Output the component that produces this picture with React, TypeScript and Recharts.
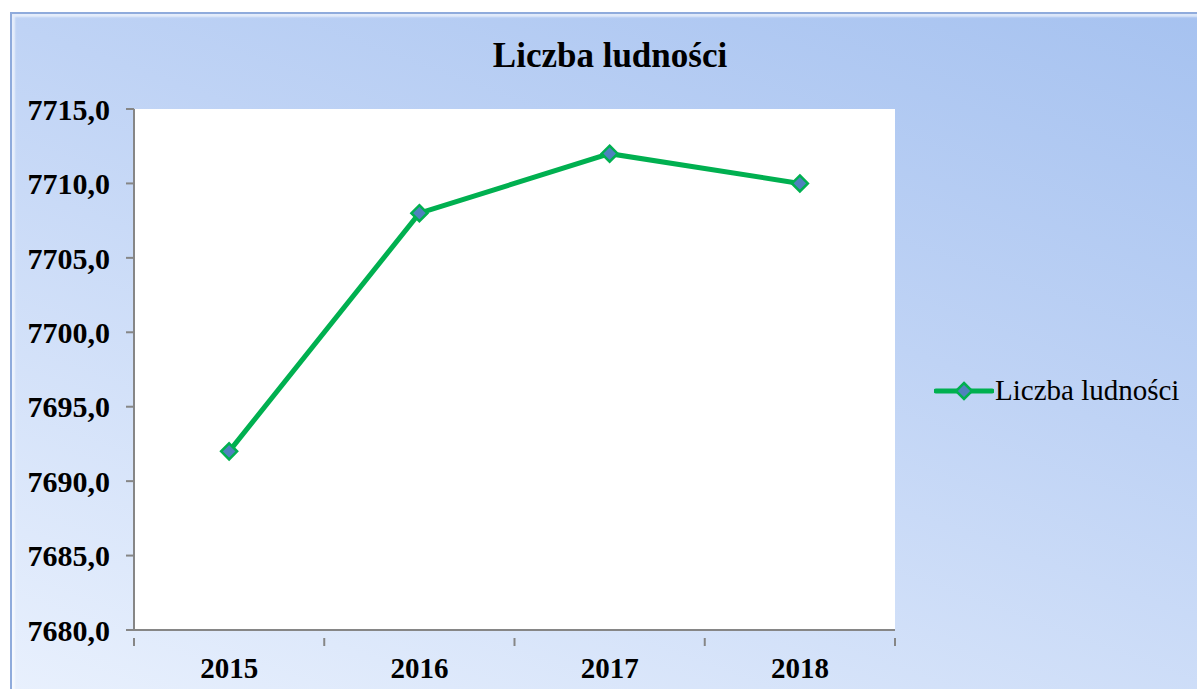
import * as React from "react"
import { LineChart, Line, XAxis, YAxis, CartesianGrid, Legend } from "recharts"

const years = ["2015", "2016", "2017", "2018"]
const population = [7692, 7708, 7712, 7710]
const yTicks = [7680, 7685, 7690, 7695, 7700, 7705, 7710, 7715]
const seriesName = "Liczba ludności"

const data = years.map((year, i) => ({ year, value: population[i] }))

const GREEN = "#00B050"
const BLUE = "#4F81BD"
const AXIS = "#868686"
const FONT = '"Liberation Serif", "Times New Roman", serif'

const Diamond = ({ cx, cy }: any) => {
    if (cx == null || cy == null) return null
    const r = 8
    return (
        <path
            d={`M${cx},${cy - r} L${cx + r},${cy} L${cx},${cy + r} L${cx - r},${cy} Z`}
            fill={BLUE}
            stroke={GREEN}
            strokeWidth={2.5}
        />
    )
}

// category labels sit between tick marks, Excel style
const YearTick = ({ x, y, payload, index, width, visibleTicksCount }: any) => {
    const bw = width / visibleTicksCount
    return (
        <g>
            {index === 0 && <line x1={x - bw / 2} y1={y} x2={x - bw / 2} y2={y + 8} stroke={AXIS} strokeWidth={2} />}
            <line x1={x + bw / 2} y1={y} x2={x + bw / 2} y2={y + 8} stroke={AXIS} strokeWidth={2} />
            <text x={x} y={y + 40} textAnchor="middle" fontFamily={FONT} fontWeight="bold" fontSize={29} fill="#000">
                {payload.value}
            </text>
        </g>
    )
}

const LegendContent = () => (
    <div style={{ display: "flex", alignItems: "center", fontFamily: FONT, fontSize: 29, color: "#000" }}>
        <svg width={60} height={20}>
            <line x1={2} y1={10} x2={58} y2={10} stroke={GREEN} strokeWidth={5} strokeLinecap="round" />
            <Diamond cx={30} cy={10} />
        </svg>
        <span style={{ marginLeft: 1 }}>{seriesName}</span>
    </div>
)

export default function App() {
    return (
        <div style={{ position: "absolute", left: 0, top: 0, width: 1197, height: 689, background: "#fff" }}>
            <div
                style={{
                    position: "absolute",
                    left: 10,
                    top: 12,
                    width: 1187,
                    height: 677,
                    boxSizing: "border-box",
                    borderTop: "2px solid #8FABDC",
                    borderLeft: "2px solid #8FABDC",
                    background: "linear-gradient(200deg, #A6C2F0 0%, #BFD3F5 40%, #E8F0FD 100%)",
                    boxShadow: "inset 3px 3px 2px rgba(255,255,255,0.6)",
                }}
            >
                <div
                    style={{
                        position: "absolute",
                        left: 0,
                        top: 22,
                        width: 1196,
                        textAlign: "center",
                        fontFamily: FONT,
                        fontWeight: "bold",
                        fontSize: 35,
                        color: "#000",
                    }}
                >
                    {seriesName}
                </div>
                <LineChart width={1185} height={675} data={data} margin={{ top: 95, right: 42, bottom: 9, left: 0 }}>
                    <CartesianGrid horizontal={false} vertical={false} fill="#fff" stroke="none" />
                    <XAxis
                        dataKey="year"
                        scale="band"
                        height={50}
                        axisLine={{ stroke: AXIS, strokeWidth: 2 }}
                        tickLine={false}
                        tick={<YearTick />}
                        interval={0}
                    />
                    <YAxis
                        domain={[7680, 7715]}
                        ticks={yTicks}
                        width={122}
                        tickSize={8}
                        tickMargin={16}
                        axisLine={{ stroke: AXIS, strokeWidth: 2 }}
                        tickLine={{ stroke: AXIS, strokeWidth: 2 }}
                        tickFormatter={(v: number) => v.toFixed(1).replace(".", ",")}
                        tick={{ fontFamily: FONT, fontWeight: "bold", fontSize: 30, fill: "#000" }}
                    />
                    <Legend
                        layout="vertical"
                        verticalAlign="middle"
                        align="right"
                        content={<LegendContent />}
                        wrapperStyle={{ left: 922, top: 360, width: 260 }}
                    />
                    <Line
                        type="linear"
                        dataKey="value"
                        name={seriesName}
                        stroke={GREEN}
                        strokeWidth={5}
                        dot={<Diamond />}
                        activeDot={false}
                        isAnimationActive={false}
                    />
                </LineChart>
            </div>
        </div>
    )
}
